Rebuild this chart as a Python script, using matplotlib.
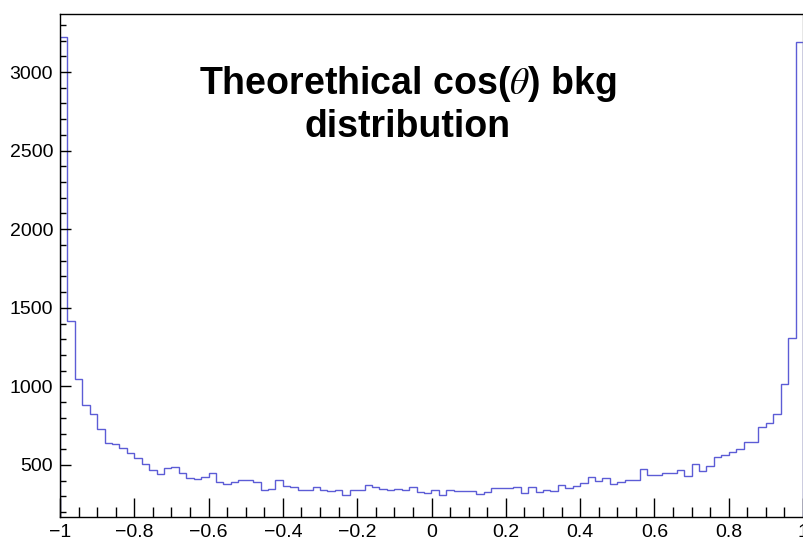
import numpy as np
import matplotlib
matplotlib.use("Agg")
import matplotlib.pyplot as plt
from matplotlib.ticker import MultipleLocator, FuncFormatter

# ---- data ----
bin_lo, bin_hi, n_bins = -1.0, 1.0, 100
counts = [
    3221, 1416, 1045, 884, 822, 727, 642, 634, 610, 578,
    547, 508, 465, 443, 480, 489, 452, 418, 410, 426,
    451, 392, 378, 391, 402, 405, 390, 343, 348, 402,
    368, 360, 341, 341, 358, 341, 335, 340, 311, 341,
    341, 375, 360, 347, 342, 348, 342, 358, 326, 322,
    339, 307, 339, 333, 333, 333, 315, 326, 352, 352,
    352, 359, 324, 358, 325, 341, 335, 375, 356, 364,
    384, 424, 396, 416, 377, 394, 405, 405, 473, 434,
    434, 451, 451, 465, 431, 506, 464, 495, 551, 564,
    584, 603, 648, 643, 744, 769, 822, 1018, 1310, 3193,
]
title_text = "Theorethical cos($\\theta$) bkg\ndistribution"
y_range = (169, 3369)
x_major, x_minor = 0.2, 0.05
y_major, y_minor = 500, 100

plt.rcParams['font.family'] = ['Liberation Sans', 'DejaVu Sans']
plt.rcParams['mathtext.fontset'] = 'stix'

W, H = 804, 544
fig = plt.figure(figsize=(W / 100, H / 100), dpi=100)
ax = fig.add_axes([60 / W, (H - 517) / H, (803 - 60) / W, (517 - 14) / H])

edges = np.linspace(bin_lo, bin_hi, n_bins + 1)
ax.stairs(counts, edges, baseline=0, color='#5c5cd6', linewidth=1.0)

ax.set_xlim(bin_lo, bin_hi)
ax.set_ylim(*y_range)

ax.xaxis.set_major_locator(MultipleLocator(x_major))
ax.xaxis.set_minor_locator(MultipleLocator(x_minor))
ax.yaxis.set_major_locator(MultipleLocator(y_major))
ax.yaxis.set_minor_locator(MultipleLocator(y_minor))


def xfmt(v, pos):
    if abs(v) < 1e-9:
        return "0"
    if abs(abs(v) - 1) < 1e-9:
        s = "%d" % round(v)
    else:
        s = ("%.1f" % v)
    return s.replace("-", "\u2212")


ax.xaxis.set_major_formatter(FuncFormatter(xfmt))
ax.yaxis.set_major_formatter(FuncFormatter(lambda v, p: "%d" % v))

ax.tick_params(axis='x', which='major', direction='in', length=14, width=1.0,
               labelsize=14, pad=5)
ax.tick_params(axis='x', which='minor', direction='in', length=7, width=1.0)
ax.tick_params(axis='y', which='major', direction='in', length=8, width=1.0,
               labelsize=14, pad=5)
ax.tick_params(axis='y', which='minor', direction='in', length=4.5, width=1.0)

for side in ['left', 'bottom', 'top']:
    ax.spines[side].set_linewidth(1.0)
    ax.spines[side].set_color('black')
ax.spines['right'].set_linewidth(1.0)
ax.spines['right'].set_color('#888888')

fig.text(408 / W, 1 - 104.5 / H, title_text, ha='center', va='center',
         fontsize=27, fontweight='bold', linespacing=1.2)

fig.savefig("out.png", dpi=100)
